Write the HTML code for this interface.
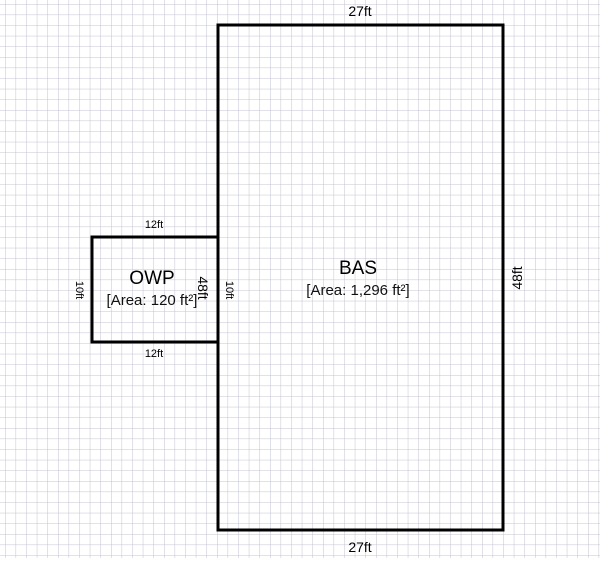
<!DOCTYPE html>
<html><head><style>
html,body{margin:0;padding:0}
body{width:600px;height:558px;overflow:hidden;background:#fff}
</style></head><body>
<svg width="600" height="558" xmlns="http://www.w3.org/2000/svg" font-family="Liberation Sans, Arial, sans-serif">
<defs>
<pattern id="g" x="5" y="4" width="10.6" height="10.6" patternUnits="userSpaceOnUse">
<path d="M0 0H10.6M0 0V10.6" stroke="#c2c2d2" stroke-width="1" fill="none"/>
</pattern>
</defs>
<rect width="600" height="558" fill="url(#g)"/>
<rect x="218" y="25" width="285" height="505" fill="none" stroke="#000" stroke-width="3"/>
<rect x="92" y="237" width="126" height="105" fill="none" stroke="#000" stroke-width="3"/>
<text x="360" y="16" font-size="14" text-anchor="middle">27ft</text>
<text x="360" y="552" font-size="14" text-anchor="middle">27ft</text>
<text x="358" y="274" font-size="19" text-anchor="middle">BAS</text>
<text x="358" y="295" font-size="15" text-anchor="middle" fill="#111">[Area: 1,296 ft²]</text>
<text transform="translate(522,278) rotate(-90)" font-size="14" text-anchor="middle">48ft</text>
<text x="154" y="228" font-size="11" text-anchor="middle">12ft</text>
<text x="154" y="357" font-size="11" text-anchor="middle">12ft</text>
<text x="152" y="284" font-size="19" text-anchor="middle">OWP</text>
<text x="152" y="305" font-size="15" text-anchor="middle" fill="#111">[Area: 120 ft²]</text>
<text transform="translate(198,288) rotate(90)" font-size="14" text-anchor="middle">48ft</text>
<text transform="translate(76,290) rotate(90)" font-size="11" text-anchor="middle">10ft</text>
<text transform="translate(226,290) rotate(90)" font-size="11" text-anchor="middle">10ft</text>
</svg>
</body></html>
